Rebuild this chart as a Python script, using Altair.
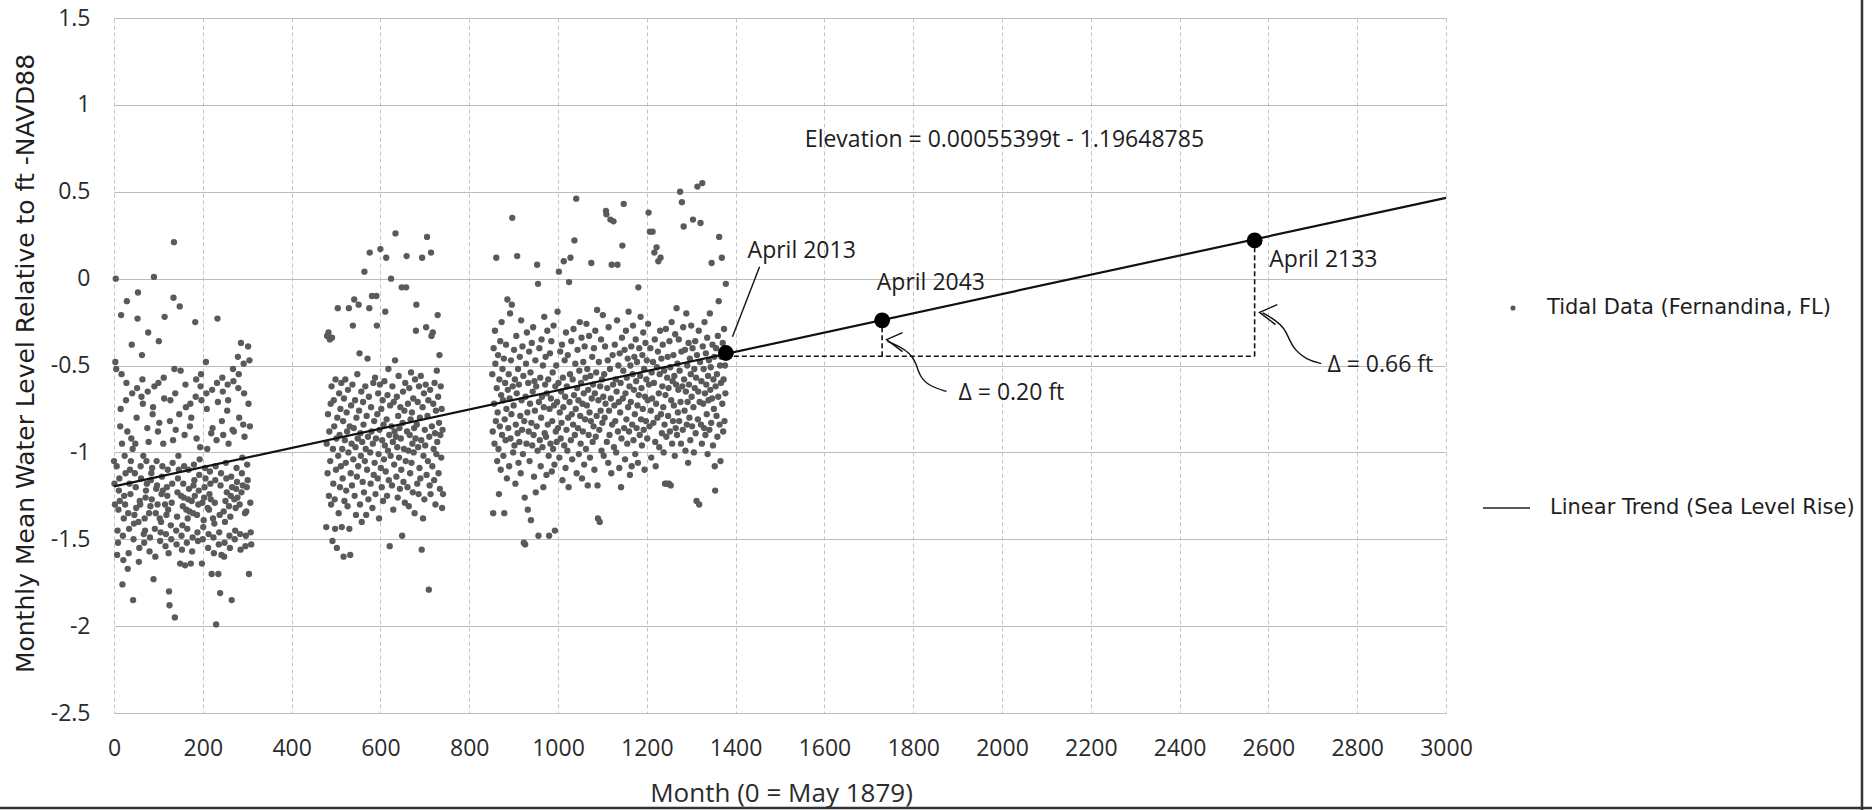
import altair as alt
import pandas as pd

# ---------------- data ----------------
# monthly mean water level (ft NAVD88); month index = start + position
c1_start = 0
c1_level = [
    -1.05, -1.18, -1.30, -0.48, 0.00, -0.52, -1.08, -1.59, -1.45, -1.52, -1.33, -1.22,
    -1.15, -1.28, -0.85, -0.75, -0.21, -0.55, -0.95, -1.76, -1.48, -1.62, -1.38, -1.25,
    -1.02, -1.30, -1.12, -0.70, -0.60, -0.13, -0.88, -1.67, -1.35, -1.58, -1.44, -1.18,
    -1.10, -1.24, -1.05, -0.92, -0.38, -0.66, -0.98, -1.85, -1.50, -1.41, -1.36, -1.12,
    -0.95, -1.20, -1.32, -0.80, -0.63, -0.23, -0.08, -1.40, -1.63, -1.55, -1.28, -1.30,
    -1.08, -1.15, -0.68, -0.44, -0.58, -0.72, -1.02, -1.47, -1.52, -1.38, -1.45, -1.26,
    -1.22, -1.05, -1.18, -0.86, -0.65, -0.31, -0.94, -1.35, -1.57, -1.49, -1.31, -1.16,
    -1.12, -1.27, -1.09, -0.78, -0.74, -1.73, 0.01, -0.62, -1.44, -1.60, -1.35, -1.21,
    -1.05, -1.19, -1.30, -0.88, -0.60, -0.36, -0.83, -1.38, -1.51, -1.46, -1.40, -1.24,
    -1.14, -1.08, -1.22, -0.95, -0.57, -0.69, -0.22, -1.30, -1.54, -1.47, -1.36, -1.20,
    -1.25, -1.10, -1.33, -1.58, -1.80, -1.88, -0.82, -0.70, -1.42, -1.50, -1.29, -1.18,
    -1.06, -0.93, -0.11, 0.21, -0.52, -1.95, -0.66, -0.87, -1.45, -1.53, -1.37, -1.23,
    -1.15, -1.02, -1.10, -0.78, -0.16, -1.64, -0.53, -1.25, -1.48, -1.56, -1.42, -1.31,
    -1.18, -1.26, -1.08, -0.90, -1.65, -0.61, -0.74, -1.33, -1.52, -1.44, -1.38, -1.27,
    -1.10, -1.21, -1.34, -0.85, -0.72, -1.64, -0.80, -1.28, -1.57, -1.49, -1.35, -1.19,
    -1.07, -1.16, -1.25, -0.25, -0.68, -0.58, -0.92, -1.36, -1.46, -1.51, -1.30, -1.22,
    -1.13, -1.04, -0.97, -0.62, -0.55, -0.70, -1.64, -1.29, -1.50, -1.43, -1.39, -1.26,
    -1.20, -1.09, -1.15, -0.48, -0.66, -0.75, -0.98, -1.32, -1.55, -1.47, -1.33, -1.24,
    -1.11, -1.18, -1.27, -0.89, -1.70, -0.64, -0.86, -1.38, -1.49, -1.58, -1.41, -1.29,
    -1.16, -1.08, -1.99, -0.93, -0.60, -0.23, -0.71, -1.70, -1.53, -1.46, -1.36, -1.81,
    -1.19, -1.12, -1.59, -0.82, -0.57, -0.65, -0.90, -1.34, -1.60, -1.52, -1.40, -1.28,
    -1.06, -1.15, -1.23, -0.76, -0.61, -0.70, -0.95, -1.31, -1.48, -1.55, -1.37, -1.25,
    -1.14, -1.85, -1.20, -0.87, -0.52, -0.59, -0.88, -1.27, -1.50, -1.45, -1.32, -1.21,
    -1.09, -1.17, -1.26, -0.45, -0.63, -0.55, -0.80, -1.30, -1.47, -1.56, -0.37, -1.23,
    -1.12, -1.03, -1.19, -0.84, -0.49, -0.66, -0.91, -1.35, -1.54, -1.48, -1.34, -1.20,
    -1.07, -1.16, -0.39, -0.72, -1.70, -0.47, -0.85, -1.29, -1.46, -1.53,
]

c2_start = 478
c2_level = [
    -1.43, -0.95, -0.33, -1.12, -0.78, -0.31, -1.25, -0.88, -0.35, -1.05, -0.72, -1.30,
    -0.62, -0.34, -1.51, -0.98, -1.18, -0.70, -0.85, -1.27, -1.44, -0.58, -1.10, -0.92,
    -1.55, -0.80, -0.17, -1.02, -1.35, -0.66, -0.90, -1.20, -0.75, -1.08, -0.60, -1.43,
    -0.98, -1.15, -0.82, -1.60, -0.69, -1.28, -0.93, -0.58, -1.06, -1.22, -0.77, -0.88,
    -1.31, -0.64, -1.00, -0.17, -1.44, -0.85, -1.59, -1.12, -0.73, -0.95, -1.19, -0.61,
    -0.27, -1.04, -0.86, -0.12, -1.25, -0.70, -0.97, -1.36, -0.80, -1.14, -0.55, -0.92,
    -1.08, -0.15, -0.76, -0.43, -1.30, -0.89, -1.02, -0.65, -1.40, -0.94, -1.17, -0.71,
    -0.84, -1.23, 0.04, -1.05, -0.62, -0.98, -1.36, -0.79, -1.10, -0.46, -0.91, -1.27,
    -0.68, -0.17, 0.15, -1.00, -1.18, -0.74, -0.88, -0.10, -1.32, -0.95, -0.60, -1.13,
    -0.82, -1.06, -0.57, -1.24, -0.92, -0.10, -0.27, -0.78, -1.15, -0.66, -1.01, -1.38,
    -0.87, -0.61, 0.17, -1.09, -0.75, -1.20, -0.93, -0.70, -1.28, -0.84, -1.04, -0.59,
    -0.96, -0.19, -1.11, 0.12, -0.81, -1.25, -0.67, -0.99, -0.52, -1.16, -0.90, -1.54,
    -0.73, -1.02, 0.00, -0.85, -1.19, -0.62, -0.94, -1.33, -0.71, -1.07, -0.88, -0.47,
    0.26, -0.91, -1.14, -0.68, -0.97, -1.26, -0.79, -0.56, -1.03, -0.86, -1.21, -0.74,
    -0.92, -1.10, -0.05, -1.48, -0.83, -0.65, -1.17, -0.98, -0.76, -1.29, -0.60, -1.05,
    -0.05, 0.13, -0.88, -1.20, -0.72, -0.99, -1.31, -0.63, -0.90, -1.12, -0.81, -0.54,
    -1.06, -0.77, -0.95, -1.23, -0.69, -1.00, -0.86, -1.35, -0.58, -0.92, -0.30, -0.15,
    -0.84, -1.18, -0.71, -0.97, -1.24, -0.62, -1.09, -0.80, -1.15, -0.56, -0.93, -1.56,
    0.12, -0.74, -1.38, -1.02, -0.66, -1.27, -0.87, -0.96, -0.61, -0.28, -1.13, 0.24,
    -0.79, -1.05, -0.70, -1.79, -0.91, -1.19, -0.64, -1.24, 0.15, -0.33, -0.85, -1.08,
    -0.31, -0.72, -0.98, -1.16, -0.60, -0.89, -1.30, -0.76, -1.01, -0.53, -0.94, -0.21,
    -0.68, -1.12, -0.83, -0.44, -1.21, -0.90, -0.62, -1.03, -0.75, -1.32, -0.87, -1.24,
]

c3_start = 852
c3_level = [
    -0.55, -0.88, -1.35, -0.40, -0.72, -0.95, -0.30, -0.49, -0.82, 0.12, -0.63, -1.05,
    -0.77, -0.44, -0.98, -1.24, -0.58, -0.85, -0.36, -1.10, -0.67, -0.25, -0.90, -0.52,
    -0.70, -1.02, -0.46, -1.35, -0.81, -0.60, -0.93, -0.38, -0.75, -1.15, -0.12, -0.64,
    -0.86, -0.55, -1.08, -0.69, -0.20, -0.92, -0.47, -0.78, -0.15, 0.35, -0.62, -1.00,
    -0.73, -0.41, -0.96, -0.58, -1.18, -0.84, -0.33, -0.66, 0.13, -0.89, -0.52, -1.06,
    -0.61, -0.94, -0.45, -0.79, -1.12, -0.24, -0.70, -0.87, -0.39, -1.01, -0.56, -1.52,
    -0.82, -1.26, -1.53, -0.68, -0.49, -0.95, -0.31, -0.77, -1.33, -0.60, -0.88, -0.42,
    -1.05, -0.72, -0.54, -1.39, -0.83, -0.37, -0.96, -0.65, -0.28, -0.90, -1.14, -0.59,
    -0.76, -0.47, -1.23, -0.62, -0.85, 0.08, -0.99, -0.03, -1.48, -0.71, -0.40, -0.93,
    -0.57, -1.08, -0.80, -0.35, -0.68, -0.97, -0.50, -1.20, -0.74, -0.22, -0.89, -0.61,
    -0.45, -0.91, -1.13, -0.66, -0.30, -0.84, -0.58, -1.02, -1.48, -0.75, -0.43, -0.95,
    -0.69, -0.36, -1.11, -0.82, -0.54, -0.98, -0.27, -0.73, -1.07, -1.45, -0.62, -0.88,
    -0.50, -0.94, -0.71, -0.19, -0.86, -0.60, 0.04, -1.03, -0.77, -0.42, -0.92, -0.65,
    -0.83, -0.38, -1.16, -0.57, -0.74, 0.10, -0.96, -0.47, -0.68, -1.09, -0.31, -0.87,
    -0.62, -0.99, -0.44, -0.80, -1.20, -0.02, -0.71, -0.55, 0.12, -0.93, -0.36, -0.78,
    -1.04, -0.58, -0.84, -0.29, -0.67, 0.22, -0.90, -0.49, -0.75, 0.46, -1.12, -0.63,
    -0.41, -0.86, -0.70, -1.01, -0.53, -0.25, -0.79, -0.95, -0.60, -0.34, -1.15, -0.72,
    -0.88, -0.48, -0.66, -1.07, -0.39, -0.81, -0.57, -0.98, -0.26, -0.73, -0.52, -1.19,
    -0.64, -0.90, -0.33, -0.77, -1.03, -0.56, -0.82, 0.09, -0.69, -0.45, -0.94, -0.61,
    -0.85, -0.40, -1.10, -0.66, -0.30, -0.91, -0.54, -0.79, -0.18, -1.19, -1.38, -0.70,
    -0.48, -0.87, -1.40, -0.62, -0.76, -0.35, -0.99, -0.58, -0.83, -0.21, -0.68, -1.02,
    -0.55, -0.80, -0.39, -0.72, 0.39, 0.37, -0.94, -0.63, -0.47, -1.06, -0.28, -0.76,
    -0.90, -0.52, 0.34, -0.69, -1.12, 0.08, -0.84, -0.44, -0.61, 0.33, -0.97, -0.73,
    -0.38, -0.82, -0.58, -1.00, -0.65, -0.24, 0.08, -0.88, -0.50, -0.71, -1.09, -0.43,
    -0.77, -0.60, -1.20, -0.92, -0.34, 0.19, -0.69, -0.53, 0.43, -0.86, -0.41, -1.04,
    -0.66, -0.30, -0.81, -0.57, -0.95, -0.46, -0.74, -0.19, -0.88, -0.62, -1.13, -0.50,
    -0.71, -0.39, -1.08, -0.84, -0.55, -0.27, -0.93, -0.64, -0.45, -0.78, -1.01, -0.35,
    -0.59, -0.86, -0.48, -0.73, -1.06, -0.05, -0.67, -0.40, -0.90, -0.56, -0.22, -0.81,
    -0.63, -0.96, -0.44, -0.75, -0.31, -0.87, -0.52, -1.10, -0.68, -0.37, -0.82, -0.58,
    -0.47, -0.92, -0.70, -0.26, 0.38, -0.61, -0.85, 0.27, -0.40, -0.76, -1.03, -0.54,
    -0.69, 0.27, -0.48, -0.83, -0.60, 0.15, -0.35, -0.94, -1.08, -0.72, 0.18, -0.51,
    -0.80, -0.42, 0.10, -0.66, -0.97, -0.55, -0.30, 0.12, -0.78, -0.46, -0.89, -0.62,
    -0.38, -0.74, -1.00, -0.53, -0.84, -1.18, -0.67, -0.29, -0.91, -1.18, -0.57, -0.45,
    -0.79, -0.63, -1.18, -0.36, -0.88, -0.51, -1.19, -0.70, -0.25, -0.95, -0.59, -0.82,
    -0.44, -0.73, -0.56, -1.02, -0.32, -0.86, -0.61, -0.17, -0.90, -0.49, -0.77, -0.64,
    -0.35, -0.82, -0.53, 0.50, -0.71, -0.95, -0.42, 0.44, -0.62, -0.87, -0.28, 0.30,
    -0.58, -0.76, -0.41, -0.99, -0.65, -0.20, -0.84, -0.50, -0.71, -1.06, -0.37, -0.61,
    -0.80, -0.46, -0.93, -0.55, -0.27, -0.68, -0.85, -0.40, 0.34, -0.74, -1.00, -0.52,
    -0.63, -0.36, -0.89, -0.57, -1.28, -0.44, 0.53, -0.81, -0.65, -0.30, -1.30, -0.71,
    -0.48, 0.32, -0.84, -0.59, -0.95, 0.55, -0.39, -0.72, -0.52, -0.86, -0.25, -0.66,
    -0.90, -0.43, -0.61, -0.78, -0.34, -1.01, -0.56, -0.70, -0.47, -0.87, -0.20, -0.64,
    -0.51, -0.83, 0.09, -0.69, -0.38, -0.96, -0.58, -0.75, -0.45, -1.08, -1.22, -0.62,
    -0.40, -0.79, -0.55, -0.91, -0.33, -0.68, -0.13, 0.24, -0.84, -0.50, -1.05, -0.60,
    -0.45, 0.12, -0.72, -0.37, -0.88, -0.58, -0.29, -0.82, -0.50, -0.66, -0.03, -0.44,
]

# linear trend (Elevation = 0.00055399t - 1.19648785), end points
trend_month = [0, 3000]
trend_level = [-1.196, 0.465]

# marked dates on the trend
key_month = [1378, 1730, 2569]
key_level = [-0.428, -0.240, 0.220]

# dashed construction lines (x, x2, y, y2)
dash_x = [1378, 1730, 2569]
dash_x2 = [2569, 1730, 2569]
dash_y = [-0.447, -0.447, -0.447]
dash_y2 = [-0.447, -0.240, 0.220]

# leader line of "April 2013"
leader_x, leader_x2 = [1393], [1454]
leader_y, leader_y2 = [-0.334], [0.069]

# annotation texts
note_text = ["Elevation = 0.00055399t - 1.19648785", "April 2013", "April 2043",
             "April 2133", "\u0394 = 0.20 ft", "\u0394 = 0.66 ft"]
note_month = [1556, 1427, 1718, 2602, 1902, 2733]
note_level = [0.80, 0.157, -0.023, 0.109, -0.656, -0.495]

# curved arrows pointing at the deltas
arrow1_month = [1742, 1769, 1792, 1807, 1814, 1837, 1875]
arrow1_level = [-0.361, -0.390, -0.428, -0.485, -0.562, -0.620, -0.649]
arrow2_month = [2587, 2614, 2636, 2647, 2659, 2685, 2719]
arrow2_level = [-0.197, -0.236, -0.284, -0.351, -0.409, -0.466, -0.489]
head1_month = [1776, 1740, 1776]
head1_level = [-0.311, -0.351, -0.420]
head2_month = [2620, 2580, 2616]
head2_level = [-0.150, -0.194, -0.265]

legend_labels = ["Tidal Data (Fernandina, FL)", "Linear Trend (Sea Level Rise)"]

x_ticks = list(range(0, 3001, 200))
y_ticks = [-2.5, -2, -1.5, -1, -0.5, 0, 0.5, 1, 1.5]

# ---------------- tables ----------------
rows = []
for start, levels in [(c1_start, c1_level), (c2_start, c2_level), (c3_start, c3_level)]:
    for i, v in enumerate(levels):
        rows.append({"month": start + i, "level": v})
tidal = pd.DataFrame(rows)
trend = pd.DataFrame({"month": trend_month, "level": trend_level})
keys = pd.DataFrame({"month": key_month, "level": key_level})
dashes = pd.DataFrame({"x": dash_x, "x2": dash_x2, "y": dash_y, "y2": dash_y2})
leader = pd.DataFrame({"x": leader_x, "x2": leader_x2, "y": leader_y, "y2": leader_y2})
notes = pd.DataFrame({"month": note_month, "level": note_level, "text": note_text})
arrows = pd.DataFrame(
    [{"month": m, "level": v, "id": "a1", "o": i} for i, (m, v) in enumerate(zip(arrow1_month, arrow1_level))]
    + [{"month": m, "level": v, "id": "a2", "o": i} for i, (m, v) in enumerate(zip(arrow2_month, arrow2_level))]
)
heads = pd.DataFrame(
    [{"month": m, "level": v, "id": "h1", "o": i} for i, (m, v) in enumerate(zip(head1_month, head1_level))]
    + [{"month": m, "level": v, "id": "h2", "o": i} for i, (m, v) in enumerate(zip(head2_month, head2_level))]
)

LABEL_FONT = "Open Sans"
WIDE_FONT = "DejaVu Sans"

xscale = alt.Scale(domain=[0, 3000], nice=False, zero=False)
yscale = alt.Scale(domain=[-2.5, 1.5], nice=False, zero=False)

x_axis = alt.Axis(
    values=x_ticks, labelExpr="'' + datum.value", grid=True, gridColor="#bfc3cc",
    gridDash=[4, 3], gridWidth=1, domain=False, ticks=False, tickSize=0,
    labelFont=LABEL_FONT, labelFontSize=23, labelColor="#2b2b2b", labelPadding=35,
    labelBaseline="middle", labelFlush=False, labelOverlap=False,
    title="Month (0 = May 1879)", titleFont=LABEL_FONT, titleFontSize=26,
    titleFontWeight="normal", titleColor="#2b2b2b", titleX=667, titleY=80,
    titleBaseline="middle", titleAlign="center",
)
y_axis = alt.Axis(
    values=y_ticks, labelExpr="'' + datum.value", grid=True, gridColor="#bdbdbd",
    gridWidth=1, domain=False, ticks=False, tickSize=0,
    labelFont=LABEL_FONT, labelFontSize=23, labelColor="#2b2b2b", labelPadding=24,
    labelFlush=False, labelOverlap=False,
    title="Monthly Mean Water Level Relative to ft -NAVD88", titleFont=WIDE_FONT,
    titleFontSize=25, titleFontWeight="normal", titleColor="#1e1e1e",
    titleX=-89, titleY=345, titleAngle=-90, titleAlign="center", titleBaseline="middle",
)

X = alt.X("month:Q", scale=xscale, axis=x_axis)
Y = alt.Y("level:Q", scale=yscale, axis=y_axis)

scatter = alt.Chart(tidal).mark_circle(size=40, color="#5a5a5a", opacity=1).encode(x=X, y=Y)

trend_line = alt.Chart(trend).mark_line(color="#111111", strokeWidth=2.2).encode(
    x=alt.X("month:Q", scale=xscale), y=alt.Y("level:Q", scale=yscale))

dash_rules = alt.Chart(dashes).mark_rule(color="#111111", strokeWidth=1.6, strokeDash=[5, 3]).encode(
    x=alt.X("x:Q", scale=xscale), x2="x2:Q", y=alt.Y("y:Q", scale=yscale), y2="y2:Q")

leader_rule = alt.Chart(leader).mark_rule(color="#111111", strokeWidth=1.4).encode(
    x=alt.X("x:Q", scale=xscale), x2="x2:Q", y=alt.Y("y:Q", scale=yscale), y2="y2:Q")

key_dots = alt.Chart(keys).mark_circle(size=250, color="#000000", opacity=1).encode(
    x=alt.X("month:Q", scale=xscale), y=alt.Y("level:Q", scale=yscale))

arrow_lines = alt.Chart(arrows).mark_line(color="#111111", strokeWidth=1.4, interpolate="basis").encode(
    x=alt.X("month:Q", scale=xscale), y=alt.Y("level:Q", scale=yscale), detail="id:N", order="o:Q")

arrow_heads = alt.Chart(heads).mark_line(color="#111111", strokeWidth=1.4).encode(
    x=alt.X("month:Q", scale=xscale), y=alt.Y("level:Q", scale=yscale), detail="id:N", order="o:Q")

note_text_marks = alt.Chart(notes).mark_text(
    font=LABEL_FONT, fontSize=23, color="#1e1e1e", align="left", baseline="middle").encode(
    x=alt.X("month:Q", scale=xscale), y=alt.Y("level:Q", scale=yscale), text="text:N")

# legend (drawn at the right of the plot)
leg_point = alt.Chart(pd.DataFrame({"label": [legend_labels[0]]})).mark_circle(
    size=26, color="#555555", opacity=1).encode(x=alt.value(1399), y=alt.value(290))
leg_point_text = alt.Chart(pd.DataFrame({"label": [legend_labels[0]]})).mark_text(
    font=WIDE_FONT, fontSize=21, color="#1e1e1e", align="left", baseline="middle").encode(
    x=alt.value(1433), y=alt.value(290), text="label:N")
leg_line = alt.Chart(pd.DataFrame({"label": [legend_labels[1]]})).mark_rule(
    color="#222222", strokeWidth=1.5).encode(x=alt.value(1369), x2=alt.value(1416), y=alt.value(490))
leg_line_text = alt.Chart(pd.DataFrame({"label": [legend_labels[1]]})).mark_text(
    font=WIDE_FONT, fontSize=21, color="#1e1e1e", align="left", baseline="middle").encode(
    x=alt.value(1436), y=alt.value(490), text="label:N")

# outer frame edges of the scanned figure
frame_right = alt.Chart(pd.DataFrame({"k": [1]})).mark_rule(color="#333333", strokeWidth=2.5).encode(
    x=alt.value(1748), y=alt.value(-18), y2=alt.value(792))
frame_bottom = alt.Chart(pd.DataFrame({"k": [1]})).mark_rule(color="#333333", strokeWidth=2.5).encode(
    x=alt.value(-114), x2=alt.value(1758), y=alt.value(790))

chart = alt.layer(
    scatter, trend_line, dash_rules, leader_rule, key_dots, arrow_lines, arrow_heads,
    note_text_marks, leg_point, leg_point_text, leg_line, leg_line_text, frame_right, frame_bottom,
).properties(
    width=1332, height=695,
    padding={"left": 114, "top": 18, "right": 426, "bottom": 97},
    autosize=alt.AutoSizeParams(type="none"),
    background="white",
).configure_view(stroke=None)

chart.save("out.html", embed_options={"renderer": "svg", "actions": False})
